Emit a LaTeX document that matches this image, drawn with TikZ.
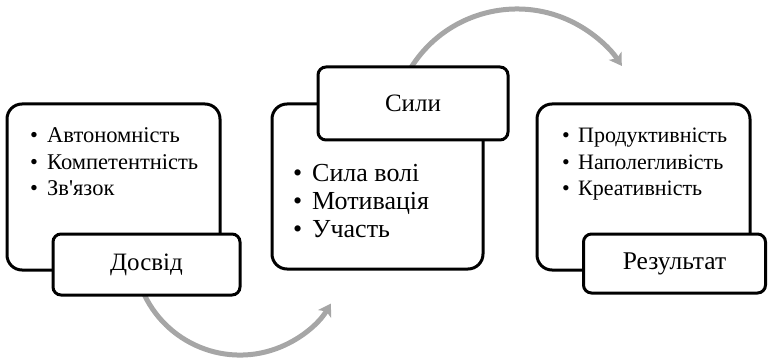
\documentclass[tikz,border=0pt]{standalone}
\usepackage{fontspec}
\setmainfont{Liberation Serif}
\usetikzlibrary{arrows.meta}
\begin{document}
\begin{tikzpicture}[x=1pt,y=-1pt,
  bigbox/.style={draw=black, line width=3pt, fill=white, rounded corners=15pt, inner sep=0pt},
  labelbox/.style={draw=black, line width=3pt, fill=white, rounded corners=8pt, inner sep=0pt, font=\fontsize{25}{30}\selectfont},
  item/.style={anchor=base west, inner sep=0pt},
  cycle arrow/.style={draw={rgb,255:red,166;green,166;blue,166}, line width=5pt,
    -{Stealth[length=12pt,width=15pt,inset=3pt]}}]
\useasboundingbox (0,0) rectangle (768,358);
% arcs
\coordinate (s1) at (140.4,285.3);
\coordinate (s2) at (408.7,71.5);
\draw[cycle arrow] (s1) arc[start angle=200, end angle=329, radius=106pt];
\draw[cycle arrow] (s2) arc[start angle=150, end angle=33, radius=125pt];
% left
\node[bigbox, minimum width=213pt, minimum height=166pt] (b1) at (113.5,187) {};
\node[item, font=\fontsize{22.5}{27}\selectfont] (t1a) at (30,143) {\makebox[17pt][l]{•}Автономність};
\node[item, font=\fontsize{22.5}{27}\selectfont] (t1b) at (30,170) {\makebox[17pt][l]{•}Компетентність};
\node[item, font=\fontsize{22.5}{27}\selectfont] (t1c) at (30,196) {\makebox[17pt][l]{•}Зв\textquotesingle язок};
\node[labelbox, minimum width=187pt, minimum height=61pt] (l1) at (146.5,264.5) {Досвід};
% middle
\node[bigbox, minimum width=211pt, minimum height=165pt] (b2) at (377.5,186.5) {};
\node[labelbox, minimum width=190pt, minimum height=73pt] (l2) at (413,103.5) {Сили};
\node[item, font=\fontsize{26}{27}\selectfont] (t2a) at (293,182) {\makebox[19pt][l]{•}Сила волі};
\node[item, font=\fontsize{26}{27}\selectfont] (t2b) at (293,209) {\makebox[19pt][l]{•}Мотивація};
\node[item, font=\fontsize{26}{27}\selectfont] (t2c) at (293,237) {\makebox[19pt][l]{•}Участь};
% right
\node[bigbox, minimum width=213pt, minimum height=166pt] (b3) at (643.5,187) {};
\node[item, font=\fontsize{22}{27}\selectfont] (t3a) at (562,143) {\makebox[16pt][l]{•}Продуктивність};
\node[item, font=\fontsize{22}{27}\selectfont] (t3b) at (562,170) {\makebox[16pt][l]{•}Наполегливість};
\node[item, font=\fontsize{22}{27}\selectfont] (t3c) at (562,196) {\makebox[16pt][l]{•}Креативність};
\node[labelbox, minimum width=182pt, minimum height=59pt, font=\fontsize{25.5}{30}\selectfont] (l3) at (674.5,263.5) {Результат};
\end{tikzpicture}
\end{document}
